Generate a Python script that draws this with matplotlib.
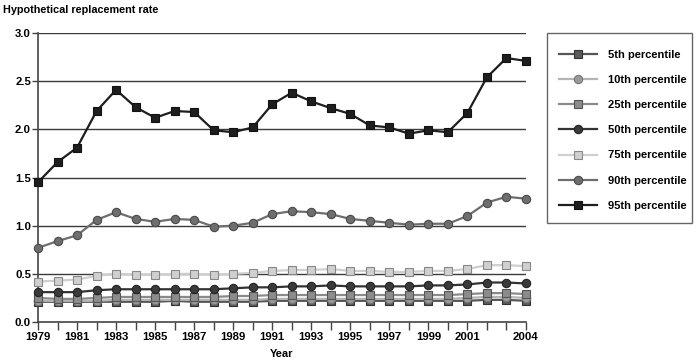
import matplotlib
matplotlib.use("Agg")
import matplotlib.pyplot as plt
from matplotlib.patches import Rectangle

plt.rcParams['font.family'] = ['Liberation Sans', 'DejaVu Sans']
plt.rcParams['font.weight'] = 'bold'

years = list(range(1979, 2005))

# replacement rates
p5 = [0.21, 0.21, 0.21, 0.21, 0.21, 0.21, 0.21, 0.22, 0.21, 0.21, 0.21, 0.21, 0.22,
      0.22, 0.22, 0.22, 0.22, 0.22, 0.22, 0.22, 0.22, 0.22, 0.22, 0.23, 0.23, 0.22]
p10 = [0.22, 0.22, 0.22, 0.22, 0.23, 0.23, 0.23, 0.23, 0.23, 0.23, 0.23, 0.23, 0.24,
       0.24, 0.24, 0.24, 0.24, 0.24, 0.24, 0.24, 0.24, 0.24, 0.25, 0.26, 0.26, 0.25]
p25 = [0.25, 0.24, 0.24, 0.25, 0.26, 0.26, 0.26, 0.26, 0.26, 0.26, 0.27, 0.27, 0.28,
       0.28, 0.28, 0.28, 0.28, 0.28, 0.28, 0.28, 0.28, 0.28, 0.29, 0.30, 0.30, 0.29]
p50 = [0.31, 0.31, 0.31, 0.33, 0.34, 0.34, 0.34, 0.34, 0.34, 0.34, 0.35, 0.36, 0.36,
       0.37, 0.37, 0.38, 0.37, 0.37, 0.37, 0.37, 0.38, 0.38, 0.39, 0.41, 0.41, 0.40]
p75 = [0.42, 0.43, 0.44, 0.48, 0.50, 0.49, 0.49, 0.50, 0.50, 0.49, 0.50, 0.51, 0.53,
       0.54, 0.54, 0.55, 0.53, 0.53, 0.52, 0.52, 0.53, 0.53, 0.55, 0.59, 0.59, 0.58]
p90 = [0.77, 0.84, 0.90, 1.06, 1.14, 1.07, 1.04, 1.07, 1.06, 0.99, 1.00, 1.03, 1.12,
       1.15, 1.14, 1.12, 1.07, 1.05, 1.03, 1.01, 1.02, 1.02, 1.10, 1.24, 1.30, 1.28]
p95 = [1.45, 1.66, 1.81, 2.19, 2.41, 2.23, 2.12, 2.19, 2.18, 1.99, 1.97, 2.02, 2.26,
       2.38, 2.29, 2.22, 2.16, 2.04, 2.02, 1.955, 1.99, 1.97, 2.17, 2.54, 2.74, 2.71]

labels = ['5th percentile', '10th percentile', '25th percentile', '50th percentile',
          '75th percentile', '90th percentile', '95th percentile']
series = [p5, p10, p25, p50, p75, p90, p95]
# (line colour, marker, marker face, marker edge)
styles = [('#555555', 's', '#5a5a5a', '#333333'),
          ('#b4b4b4', 'o', '#9a9a9a', '#777777'),
          ('#8a8a8a', 's', '#8c8c8c', '#555555'),
          ('#333333', 'o', '#3a3a3a', '#222222'),
          ('#cfcfcf', 's', '#d0d0d0', '#888888'),
          ('#6e6e6e', 'o', '#6e6e6e', '#4a4a4a'),
          ('#1e1e1e', 's', '#1e1e1e', '#111111')]

W, H = 699, 361
fig = plt.figure(figsize=(W / 100, H / 100), dpi=100)
ax = fig.add_axes([0.0544, 0.108, 0.698, 0.8006])

for yv in [0.5, 1.0, 1.5, 2.0, 2.5, 3.0]:
    ax.axhline(yv, color='#3a3a3a', lw=1.0, zorder=1)

for vals, lab, (lc, mk, mf, me) in zip(series, labels, styles):
    ax.plot(years, vals, color=lc, lw=1.6, marker=mk, markersize=6,
            markerfacecolor=mf, markeredgecolor=me, markeredgewidth=0.8,
            label=lab, clip_on=False, zorder=3)

ax.set_xlim(1979, 2004)
ax.set_ylim(0, 3.0)
ax.set_yticks([0.0, 0.5, 1.0, 1.5, 2.0, 2.5, 3.0])
ax.set_yticklabels(['0.0', '0.5', '1.0', '1.5', '2.0', '2.5', '3.0'])
ax.set_xticks(years)
ax.set_xticklabels([str(y) if (y % 2 == 1 and y <= 2001) or y == 2004 else '' for y in years])
ax.tick_params(axis='x', direction='out', length=6, width=1, color='#444444',
               labelsize=8.2, pad=1)
ax.tick_params(axis='y', direction='out', length=4, width=1, color='#444444',
               labelsize=8.2, pad=1)

for s in ['top', 'right']:
    ax.spines[s].set_visible(False)
for s in ['left', 'bottom']:
    ax.spines[s].set_color('#444444')
    ax.spines[s].set_linewidth(1.2)

ax.set_xlabel('Year', fontsize=8, fontweight='bold', labelpad=5)
fig.text(0.004, 0.985, 'Hypothetical replacement rate', fontsize=7.8,
         fontweight='bold', ha='left', va='top')

# legend box drawn on its own so the padding matches the original
fig.patches.append(Rectangle((547 / W, 1 - 223 / H), 145 / W, 190 / H,
                             transform=fig.transFigure, fill=False,
                             edgecolor='#666666', lw=1.0))
leg = ax.legend(loc='upper left', bbox_to_anchor=(559 / W, 1 - 50 / H),
                bbox_transform=fig.transFigure, frameon=False, fontsize=8,
                handlelength=3.4, labelspacing=1.36, borderpad=0,
                handletextpad=1.0, borderaxespad=0)

fig.savefig('out.png', dpi=100)
